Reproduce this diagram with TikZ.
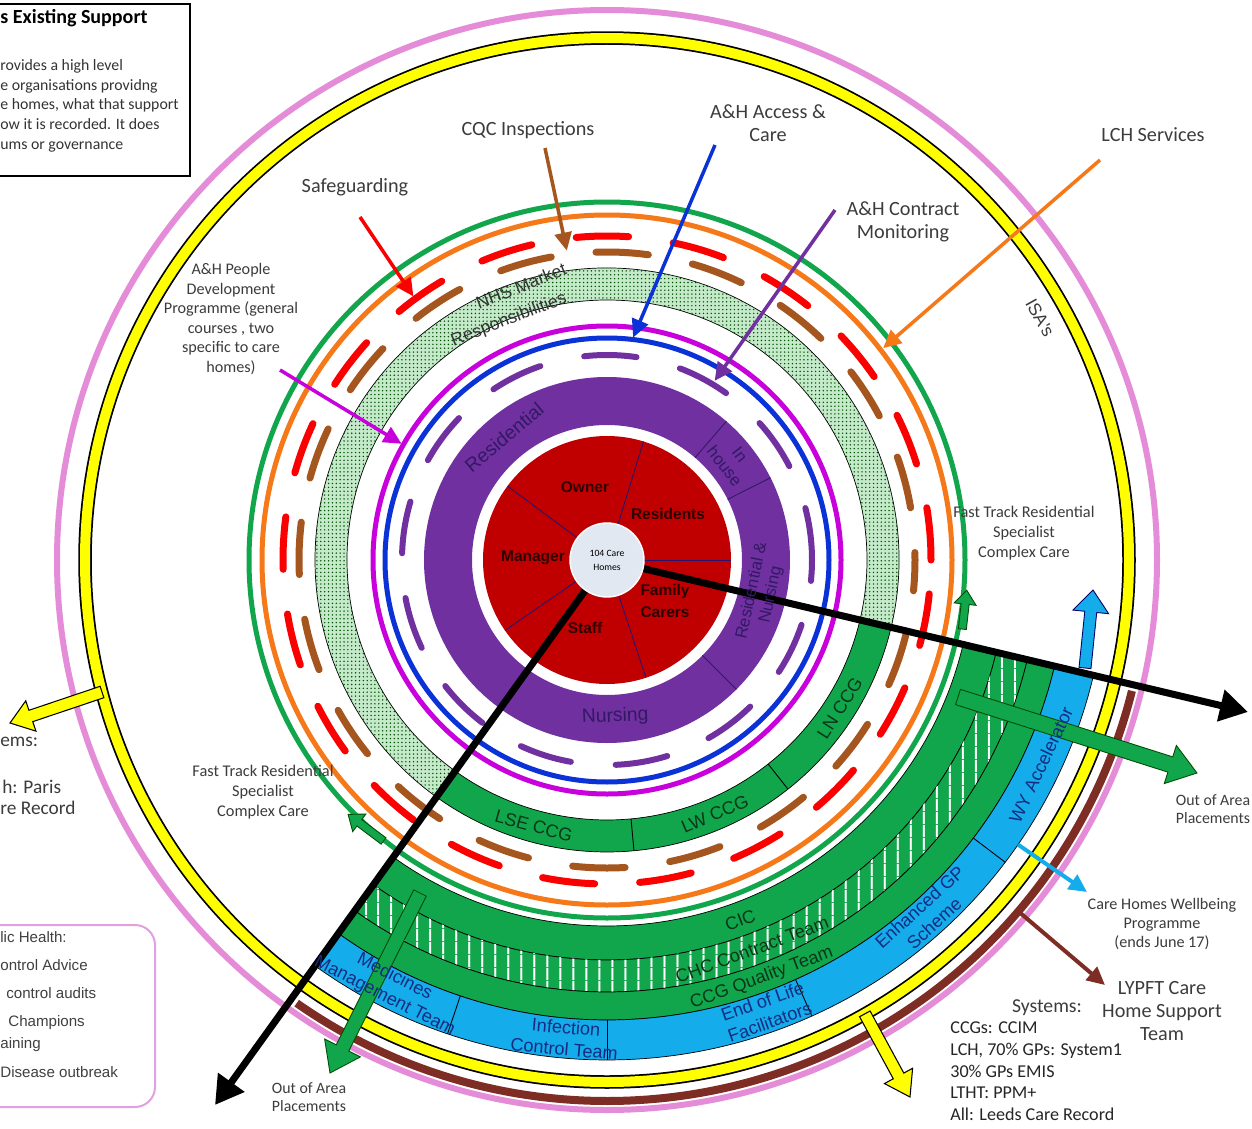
\documentclass[tikz,border=0pt]{standalone}
\usepackage{fontspec}
\setmainfont{Carlito}
\newfontfamily\arialf{Liberation Sans}
\usetikzlibrary{calc,arrows.meta,patterns.meta}

\definecolor{pinkring}{RGB}{228,140,215}
\definecolor{ylw}{RGB}{255,255,0}
\definecolor{brownring}{RGB}{125,45,35}
\definecolor{skyb}{RGB}{20,172,235}
\definecolor{msgreen}{RGB}{18,166,76}
\definecolor{orng}{RGB}{245,120,25}
\definecolor{redd}{RGB}{250,0,0}
\definecolor{brownd}{RGB}{165,85,30}
\definecolor{dotgreen}{RGB}{196,234,202}
\definecolor{magring}{RGB}{200,0,220}
\definecolor{bluering}{RGB}{10,50,215}
\definecolor{purp}{RGB}{112,48,160}
\definecolor{redsec}{RGB}{192,0,0}
\definecolor{hubfill}{RGB}{225,232,242}
\definecolor{ccgtext}{RGB}{10,55,25}
\definecolor{bandtext}{RGB}{20,45,130}
\definecolor{purptext}{RGB}{50,25,100}
\definecolor{sectext}{RGB}{45,0,0}
\definecolor{secline}{RGB}{40,20,110}
\definecolor{labgray}{RGB}{60,60,60}
\definecolor{boxpink}{RGB}{225,160,225}

% block arrow: style, start, end, half shaft, half head, head length
\newcommand{\blockarrow}[6]{%
  \draw[#1] ($#2!#4!90:#3$) -- ($#3!#6!#2!#4!-90:#2$) -- ($#3!#6!#2!#5!-90:#2$) -- #3
    -- ($#3!#6!#2!#5!90:#2$) -- ($#3!#6!#2!#4!90:#2$) -- ($#2!#4!-90:#3$) -- cycle;}

\begin{document}
\begin{tikzpicture}
[
  x=0.02cm, y=0.02cm,
  lab/.style={font=\fontsize{11.5}{13.2}\selectfont, text=labgray, align=center, inner sep=0pt},
  note/.style={font=\fontsize{9.2}{11.1}\selectfont, text=labgray, align=center, inner sep=0pt},
  ringtxt/.style={font=\arialf\fontsize{10.3}{12.4}\selectfont, align=center, inner sep=0pt},
  sectortxt/.style={font=\arialf\bfseries\fontsize{8.8}{12.4}\selectfont, text=sectext, align=center, inner sep=0pt},
  band/.style={draw=black, line width=0.4pt},
  divider/.style={draw=black, line width=0.5pt},
  dashring/.style={line width=0.14cm, dash pattern=on 1.05cm off 0.9cm, line cap=round},
  pointer/.style={line width=0.07cm, -{Triangle[length=0.36cm,width=0.34cm]}},
  bigarrow/.style={line width=0.14cm, -{Triangle[length=0.56cm,width=0.62cm]}},
  greenarr/.style={fill=msgreen, draw=green!30!black, line width=0.5pt},
  hub/.style={circle, fill=hubfill, draw=white, line width=0.8pt, minimum size=1.48cm, inner sep=0pt, align=center, font=\fontsize{5.5}{8}\selectfont}
]
\useasboundingbox (0,0) rectangle (1252,-1129);
\fill[white] (0,0) rectangle (1252,-1129);

\begin{scope}[shift={(607,-560)}]
\coordinate (C) at (0,0);

% outer rings
\draw[pinkring, line width=0.12cm] (C) circle[radius=550];
\draw[brownring, line width=0.16cm] (-125:541) arc[start angle=-125, end angle=-14, radius=541];
\draw[black, line width=0.27cm] (C) circle[radius=522];
\draw[ylw, line width=0.2cm] (C) circle[radius=522];

% outer service bands
\draw[band, fill=msgreen] (-125.7:400) arc[start angle=-125.7, end angle=-13.3, radius=400] -- (-13.3:366) arc[start angle=-13.3, end angle=-125.7, radius=366] -- cycle;
\draw[band, fill=msgreen, postaction={pattern={Lines[angle=90,distance=7.4pt,line width=1pt]}, pattern color=white}] (-125.7:432) arc[start angle=-125.7, end angle=-13.3, radius=432] -- (-13.3:400) arc[start angle=-13.3, end angle=-125.7, radius=400] -- cycle;
\draw[band, fill=msgreen] (-125.7:460) arc[start angle=-125.7, end angle=-13.3, radius=460] -- (-13.3:432) arc[start angle=-13.3, end angle=-125.7, radius=432] -- cycle;
\draw[band, fill=skyb] (-125.7:500) arc[start angle=-125.7, end angle=-13.3, radius=500] -- (-13.3:460) arc[start angle=-13.3, end angle=-125.7, radius=460] -- cycle;
\foreach \a in {-108.6,-90,-65.8,-37.2}
  \draw[divider] (\a:460) -- (\a:500);

% middle rings
\draw[msgreen, line width=0.1cm] (C) circle[radius=358];
\draw[orng, line width=0.1cm] (C) circle[radius=345];
\draw[redd, dashring] (C) circle[radius=324];
\draw[brownd, dashring, dash phase=0.9cm] (C) circle[radius=308];

% market band and CCG band
\draw[band, fill=dotgreen, postaction={pattern={Dots[distance=2.2pt,radius=0.45pt]}, pattern color=green!30!black}] (-13.3:292) arc[start angle=-13.3, end angle=234.3, radius=292] -- (234.3:260) arc[start angle=234.3, end angle=-13.3, radius=260] -- cycle;
\draw[band, fill=msgreen] (234.3:292) arc[start angle=234.3, end angle=346.7, radius=292] -- (346.7:260) arc[start angle=346.7, end angle=234.3, radius=260] -- cycle;
\foreach \a in {-84.7,-51.7}
  \draw[divider] (\a:260) -- (\a:292);

\draw[magring, line width=0.1cm] (C) circle[radius=234];
\draw[bluering, line width=0.1cm] (C) circle[radius=222];
\draw[purp, dashring, line width=0.12cm] (C) circle[radius=205];

% home types
\fill[purp, even odd rule] (C) circle[radius=183] (C) circle[radius=135];
\foreach \a in {49.3,26.7,-45,234.3}
  \draw[line width=0.5pt, draw=purptext] (\a:135) -- (\a:183);

% people in the home
\fill[redsec] (C) circle[radius=124];
\foreach \a in {143.4,72.9,0,-71.7,214.6}
  \draw[line width=0.5pt, draw=secline] (\a:37) -- (\a:124);

% block arrows
\coordinate (oaR-s) at (351,-137);
\coordinate (oaR-e) at (590,-213);
\coordinate (oaL-s) at (-187,-333);
\coordinate (oaL-e) at (-277,-513);
\coordinate (ftL-s) at (-128.5:359);
\coordinate (ftL-e) at (-135.5:363);
\coordinate (ftR-s) at (-11:362);
\coordinate (ftR-e) at (-4.8:361);
\coordinate (wy-s) at (478,-108);
\coordinate (wy-e) at (486,-30);
\coordinate (yL-s) at (-505,-132);
\coordinate (yL-e) at (-597,-163);
\coordinate (yB-s) at (-60.4:522);
\coordinate (yB-e) at (303,-537);
\blockarrow{greenarr}{(oaR-s)}{(oaR-e)}{0.16cm}{0.4cm}{0.56cm}
\blockarrow{greenarr}{(oaL-s)}{(oaL-e)}{0.14cm}{0.4cm}{0.56cm}
\blockarrow{greenarr}{(ftL-s)}{(ftL-e)}{0.08cm}{0.22cm}{0.28cm}
\blockarrow{greenarr}{(ftR-s)}{(ftR-e)}{0.08cm}{0.22cm}{0.28cm}
\blockarrow{fill=skyb, draw=blue!40!black, line width=0.5pt}{(wy-s)}{(wy-e)}{0.12cm}{0.36cm}{0.44cm}
\blockarrow{fill=ylw, draw=black, line width=0.6pt}{(yL-s)}{(yL-e)}{0.12cm}{0.32cm}{0.44cm}
\blockarrow{fill=ylw, draw=black, line width=0.6pt}{(yB-s)}{(yB-e)}{0.12cm}{0.32cm}{0.48cm}

\coordinate (wb-s) at (-34.7:500);
\coordinate (wb-e) at (480,-332);
\coordinate (ly-s) at (-40.5:541);
\coordinate (ly-e) at (498,-425);
\draw[pointer, skyb, line width=0.08cm] (wb-s) -- (wb-e);
\draw[pointer, brownring, line width=0.08cm] (ly-s) -- (ly-e);

% pointer ends
\coordinate (safe-end) at (126.3:327);
\coordinate (cqc-end) at (97.4:312);
\coordinate (access-end) at (83.3:224);
\coordinate (contract-end) at (59:209);
\coordinate (lch-end) at (37.5:348);
\coordinate (people-end) at (150.5:236);

% main axes
\coordinate (farE) at (641,-152);
\coordinate (farSW) at (-392,-545);
\draw[bigarrow] (C) -- (farE);
\draw[bigarrow] (C) -- (farSW);

\node[hub] (hub) at (C) {104 Care\\Homes};

% ring labels
\node[sectortxt] (owner) at (-22,73) {Owner};
\node[sectortxt] (residents) at (61,46) {Residents};
\node[sectortxt] (manager) at (-74,2) {Manager};
\node[sectortxt] (family) at (58,-41) {Family\\Carers};
\node[sectortxt] (staff) at (-22,-68) {Staff};

\node[ringtxt, text=purptext, font=\arialf\fontsize{11}{13}\selectfont, rotate=40] (residential) at (130:160) {Residential};
\node[ringtxt, text=purptext, font=\arialf\fontsize{9.5}{11}\selectfont, rotate=-52] (inhouse) at (38.5:160) {In\\house};
\node[ringtxt, text=purptext, font=\arialf\fontsize{9.5}{11}\selectfont, rotate=78] (resnurs) at (-12:158) {Residential \&\\Nursing};
\node[ringtxt, text=purptext, font=\arialf\fontsize{11}{13}\selectfont, rotate=2] (nursing) at (-87:157) {Nursing};

\node[ringtxt, text=ccgtext, rotate=-15.4] (lse) at (-105.4:276) {LSE CCG};
\node[ringtxt, text=ccgtext, rotate=23] (lw) at (-67:276) {LW CCG};
\node[ringtxt, text=ccgtext, rotate=57.5] (ln) at (-32.5:276) {LN CCG};

\node[ringtxt, text=ccgtext, rotate=20.3] (cic) at (-69.7:384) {CIC};
\node[ringtxt, text=ccgtext, rotate=20.4] (chc) at (-69.6:416) {CHC Contract Team};
\node[ringtxt, text=ccgtext, rotate=20.3] (quality) at (-69.7:446) {CCG Quality Team};

\node[ringtxt, text=bandtext, rotate=-27] (medicines) at (-117:479) {Medicines\\Management Team};
\node[ringtxt, text=bandtext, rotate=-5] (infection) at (-95:480) {Infection\\Control Team};
\node[ringtxt, text=bandtext, rotate=19.4] (eol) at (-70.6:479) {End of Life\\Facilitators};
\node[ringtxt, text=bandtext, rotate=42] (egp) at (-48:478) {Enhanced GP\\Scheme};
\node[ringtxt, text=bandtext, rotate=64.7] (wyacc) at (-25.3:480) {WY Accelerator};

\node[ringtxt, text=labgray, font=\arialf\fontsize{10}{12}\selectfont, rotate=-60.8] (isa) at (29.2:496) {ISA's};
\end{scope}

% market responsibilities
\node[ringtxt, text=black!80, font=\arialf\fontsize{10}{12}\selectfont, rotate=22] (nhs) at (521,-286) {NHS Market};
\node[ringtxt, text=black!80, font=\arialf\fontsize{10}{12}\selectfont, rotate=21] (resp) at (509,-320) {Responsibilities};

% labels with pointers
\node[lab] (cqc) at (528,-130) {CQC Inspections};
\node[lab] (safeg) at (355,-187) {Safeguarding};
\node[lab] (access) at (768,-123) {A\&H Access \&\\Care};
\node[lab] (contract) at (903,-222) {A\&H Contract\\Monitoring};
\node[lab] (lch) at (1153,-135) {LCH Services};
\node[note] (people) at (231,-319) {A\&H People\\Development\\Programme (general\\courses , two\\specific to care\\homes)};

\coordinate (safe-start) at (360,-217);
\coordinate (cqc-start) at (545,-148);
\coordinate (access-start) at (715,-145);
\coordinate (contract-start) at (835,-210);
\coordinate (lch-start) at (1100,-160);
\coordinate (people-start) at (280,-370);
\draw[pointer, redd] (safe-start) -- (safe-end);
\draw[pointer, brownd] (cqc-start) -- (cqc-end);
\draw[pointer, bluering] (access-start) -- (access-end);
\draw[pointer, purp] (contract-start) -- (contract-end);
\draw[pointer, orng] (lch-start) -- (lch-end);
\draw[pointer, magring] (people-start) -- (people-end);

% side notes
\node[note, font=\fontsize{9.3}{11.3}\selectfont] (ftleft) at (263,-792) {Fast Track Residential\\Specialist\\Complex Care};
\node[note, font=\fontsize{9.3}{11.3}\selectfont] (ftright) at (1024,-533) {Fast Track Residential\\Specialist\\Complex Care};
\node[note, font=\fontsize{9}{10.2}\selectfont] (oaright) at (1213,-809) {Out of Area\\Placements};
\node[note, font=\fontsize{9}{10.2}\selectfont] (oaleft) at (309,-1097) {Out of Area\\Placements};
\node[note, font=\fontsize{9.2}{10.8}\selectfont] (wellbeing) at (1162,-924) {Care Homes Wellbeing\\Programme\\(ends June 17)};
\node[lab, font=\fontsize{11.5}{13.3}\selectfont] (lypft) at (1162,-1011) {LYPFT Care\\Home Support\\Team};
\node[lab, font=\fontsize{11.2}{13}\selectfont] (systems) at (1047,-1008) {Systems:};
\node[anchor=north west, align=left, inner sep=0pt, text=black!85, font=\fontsize{10.3}{12.5}\selectfont] (syslist) at (950,-1021) {CCGs: CCIM\\LCH, 70\% GPs: System1\\30\% GPs EMIS\\LTHT: PPM+\\All: Leeds Care Record};

% cut-off text at the left
\node[anchor=west, inner sep=0pt, text=labgray, font=\fontsize{11}{13}\selectfont] (lsys) at (0,-742) {ems:};
\node[anchor=west, inner sep=0pt, text=labgray, font=\fontsize{11}{13}\selectfont] (lparis) at (2,-787) {h: Paris};
\node[anchor=west, inner sep=0pt, text=labgray, font=\fontsize{11}{13}\selectfont] (lrecord) at (0,-808) {re Record};

% top-left box
\draw[line width=0.03cm] (-10,-4) rectangle (190,-176);
\node[anchor=west, inner sep=0pt, font=\bfseries\fontsize{11.4}{13}\selectfont] (boxtitle) at (0,-18) {s Existing Support};
\node[anchor=north west, align=left, inner sep=0pt, text=black!80, font=\fontsize{9}{11.2}\selectfont] (boxbody) at (0,-59) {rovides a high level\\e organisations providng\\e homes, what that support\\ow it is recorded. It does\\ums or governance};

% bottom-left box
\draw[boxpink, line width=0.04cm, rounded corners=0.4cm] (-20,-925) rectangle (155,-1107);
\node[anchor=west, inner sep=0pt, text=black!75, font=\arialf\fontsize{8.6}{10}\selectfont] (ph1) at (0,-937) {lic Health:};
\node[anchor=west, inner sep=0pt, text=black!75, font=\arialf\fontsize{8.6}{10}\selectfont] (ph2) at (0,-965) {ontrol Advice};
\node[anchor=west, inner sep=0pt, text=black!75, font=\arialf\fontsize{8.6}{10}\selectfont] (ph3) at (6,-993) {control audits};
\node[anchor=west, inner sep=0pt, text=black!75, font=\arialf\fontsize{8.6}{10}\selectfont] (ph4) at (8,-1023) {Champions};
\node[anchor=west, inner sep=0pt, text=black!75, font=\arialf\fontsize{8.6}{10}\selectfont] (ph5) at (0,-1045) {aining};
\node[anchor=west, inner sep=0pt, text=black!75, font=\arialf\fontsize{8.6}{10}\selectfont] (ph6) at (0,-1072) {Disease outbreak};
\end{tikzpicture}
\end{document}
